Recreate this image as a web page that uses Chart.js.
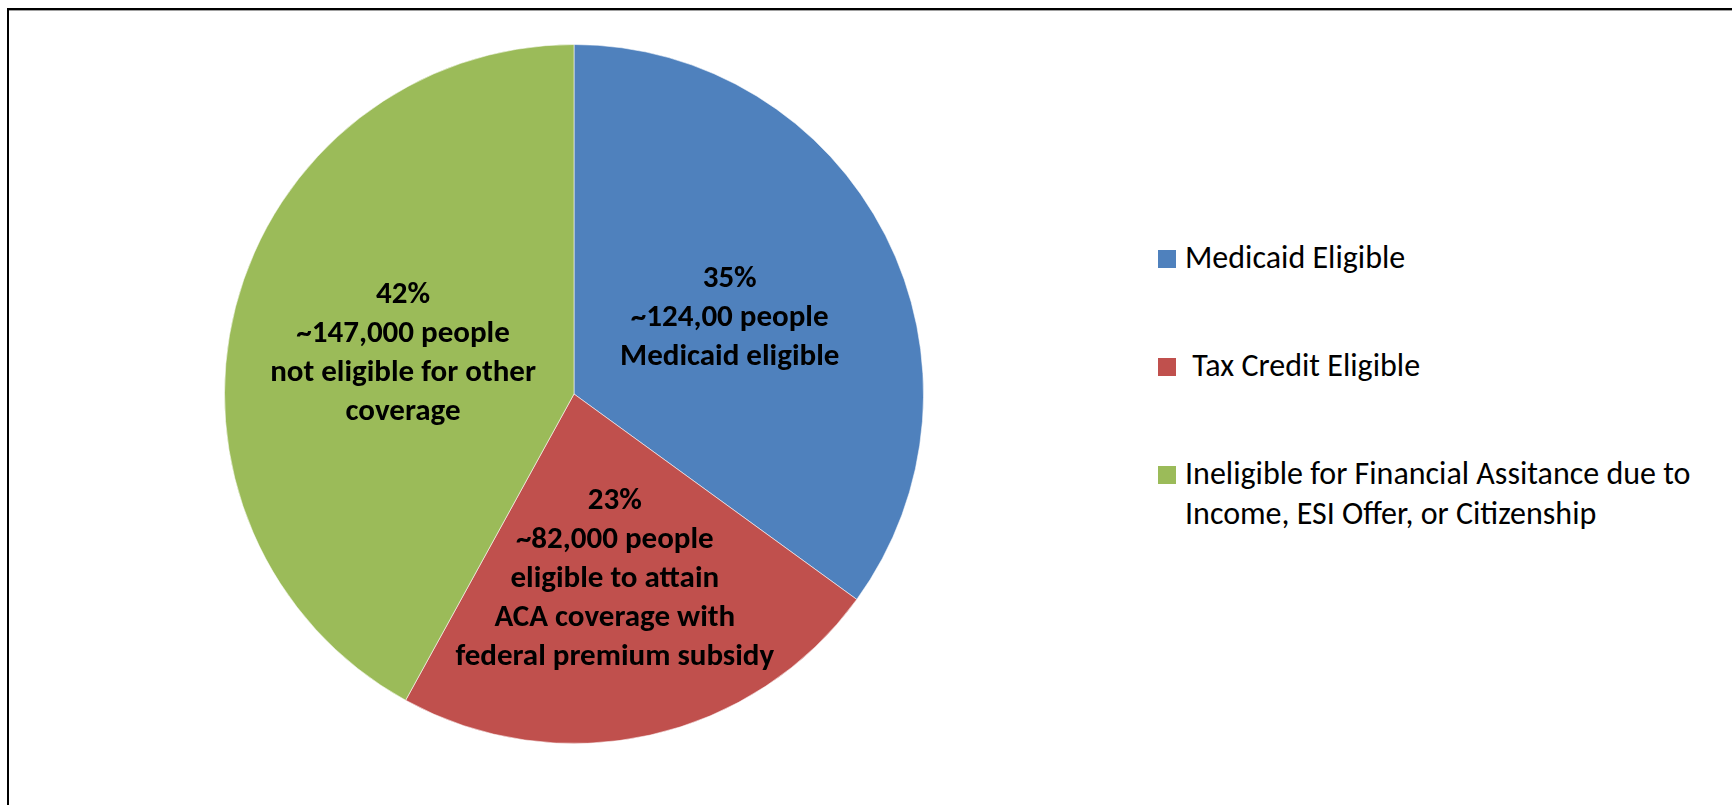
<!DOCTYPE html>
<html>
<head>
<meta charset="utf-8">
<title>Coverage eligibility</title>
<script src="https://cdn.jsdelivr.net/npm/chart.js@4/dist/chart.umd.min.js"></script>
<style>
  html, body { margin: 0; padding: 0; background: #fff; }
  body { width: 1732px; height: 805px; position: relative; overflow: hidden; font-family: Carlito, Calibri, Lato, sans-serif; }
  #frame {
    position: absolute; left: 7px; top: 8px; width: 1740px; height: 820px;
    border-top: 2px solid #000; border-left: 2px solid #000;
    box-shadow: inset 0 1px 0 #a0a0a0;
  }
  #pie-wrap { position: absolute; left: 224px; top: 44px; width: 700px; height: 700px; }
  #legend { position: absolute; left: 1158px; top: 0; }
  .item { position: absolute; left: 0; white-space: nowrap; font-size: 32px; line-height: 40px; color: #000; }
  .item .box { position: absolute; left: 0; top: 12px; width: 18px; height: 18px; }
  .item .txt { position: absolute; left: 27px; top: 0; white-space: pre; }
</style>
</head>
<body>
<div id="frame"></div>
<div id="pie-wrap"><canvas id="pie-chart" width="700" height="700"></canvas></div>
<div id="legend"></div>
<script>
// Slice data
const categories = ['Medicaid Eligible', ' Tax Credit Eligible', 'Ineligible for Financial Assitance due to\nIncome, ESI Offer, or Citizenship'];
const shares = [35, 23, 42];
const sliceColors = ['#4F81BD', '#C0504D', '#9BBB59'];
const peopleLines = [
  ['~124,00 people', 'Medicaid eligible'],
  ['~82,000 people', 'eligible to attain', 'ACA coverage with', 'federal premium subsidy'],
  ['~147,000 people', 'not eligible for other', 'coverage']
];

// Draw the multi-line labels inside each slice
const sliceLabels = {
  id: 'sliceLabels',
  afterDatasetsDraw(chart, args, opts) {
    const ctx = chart.ctx;
    const meta = chart.getDatasetMeta(0);
    ctx.save();
    ctx.font = 'bold 31px Carlito, Calibri, Lato, sans-serif';
    ctx.fillStyle = '#000';
    ctx.textAlign = 'center';
    ctx.textBaseline = 'alphabetic';
    const lineH = 39;
    meta.data.forEach((arc, i) => {
      const p = arc.getProps(['x', 'y', 'startAngle', 'endAngle', 'outerRadius']);
      const mid = (p.startAngle + p.endAngle) / 2;
      const r = p.outerRadius * opts.radii[i];
      const cx = p.x + Math.cos(mid) * r;
      const cy = p.y + Math.sin(mid) * r;
      const lines = [shares[i] + '%'].concat(peopleLines[i]);
      const y0 = cy + 11 - (lines.length - 1) * lineH / 2;
      lines.forEach((t, k) => ctx.fillText(t, cx, y0 + k * lineH));
    });
    ctx.restore();
  }
};

new Chart(document.getElementById('pie-chart'), {
  type: 'pie',
  data: {
    labels: categories,
    datasets: [{
      data: shares,
      backgroundColor: sliceColors,
      borderColor: 'rgba(255,255,255,0.55)',
      borderWidth: 1
    }]
  },
  options: {
    responsive: false,
    animation: false,
    layout: { padding: 0 },
    plugins: {
      legend: { display: false },
      tooltip: { enabled: false },
      sliceLabels: { radii: [0.5, 0.535, 0.505] }
    }
  },
  plugins: [sliceLabels]
});

// Legend on the right, one row per category
const legend = document.getElementById('legend');
const rowTops = [238, 346, 454];
categories.forEach((name, i) => {
  const item = document.createElement('div');
  item.className = 'item';
  item.style.top = rowTops[i] + 'px';
  const box = document.createElement('span');
  box.className = 'box';
  box.style.background = sliceColors[i];
  const txt = document.createElement('span');
  txt.className = 'txt';
  txt.textContent = name;
  item.appendChild(box);
  item.appendChild(txt);
  legend.appendChild(item);
});
</script>
</body>
</html>
